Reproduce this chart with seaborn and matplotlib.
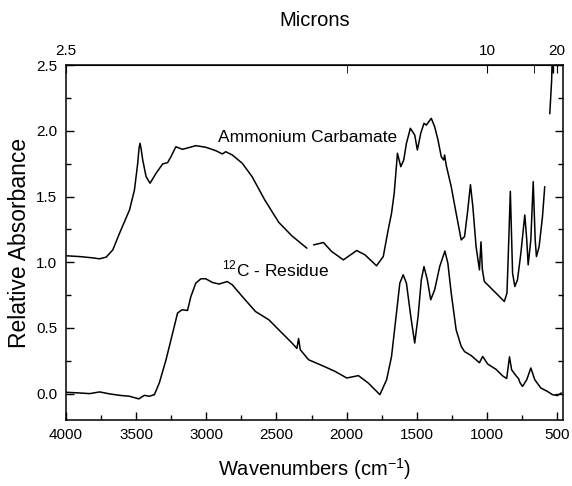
import numpy as np
import matplotlib
matplotlib.use("Agg")
import matplotlib.pyplot as plt
from matplotlib.ticker import MultipleLocator
import seaborn as sns

# Ammonium carbamate spectrum (wavenumber cm-1, relative absorbance), drawn in pieces
carb_wn_a = [4000, 3995, 3901, 3806, 3759, 3712, 3665, 3617, 3546, 3511,
             3488, 3478, 3471, 3463, 3452, 3428, 3400, 3357, 3310, 3275,
             3251, 3216, 3169, 3074, 3003, 2932, 2885, 2861, 2814, 2743,
             2673, 2583, 2483, 2389, 2283]
carb_abs_a = [1.05, 1.049, 1.043, 1.033, 1.026, 1.039, 1.094, 1.221, 1.398, 1.55,
              1.75, 1.87, 1.905, 1.86, 1.778, 1.651, 1.601, 1.677, 1.748, 1.758,
              1.803, 1.879, 1.859, 1.887, 1.875, 1.849, 1.824, 1.841, 1.816, 1.753,
              1.651, 1.474, 1.303, 1.20, 1.107]

carb_wn_b = [2235, 2165, 2106, 2023, 1928, 1869, 1787, 1739, 1704, 1680,
             1661, 1638, 1614, 1593, 1574, 1546, 1515, 1496, 1472, 1449,
             1432, 1397, 1373, 1349, 1326, 1309, 1302, 1291, 1255, 1220,
             1184, 1160, 1137, 1118, 1101, 1078, 1054, 1043, 1033, 1019,
             983, 960, 924, 877, 858, 849, 834, 818, 802, 783,
             759, 731, 717, 707, 688, 671, 657, 648, 629, 605,
             589]
carb_abs_b = [1.132, 1.150, 1.081, 1.018, 1.089, 1.056, 0.973, 1.043, 1.246, 1.373,
              1.525, 1.829, 1.727, 1.778, 1.905, 2.019, 1.968, 1.854, 1.981, 2.057,
              2.044, 2.095, 2.031, 1.93, 1.803, 1.778, 1.816, 1.74, 1.575, 1.373,
              1.17, 1.195, 1.398, 1.59, 1.423, 1.119, 0.942, 1.155, 0.942, 0.853,
              0.815, 0.79, 0.752, 0.701, 0.765, 1.043, 1.54, 0.917, 0.815, 0.866,
              1.069, 1.36, 1.17, 0.98, 1.17, 1.613, 1.17, 1.043, 1.119, 1.347,
              1.575]

carb_wn_c = [553, 540, 532, 529, 527]
carb_abs_c = [2.13, 2.38, 2.7, 2.7, 2.44]

# 12C residue spectrum
res_wn = [4000, 3995, 3901, 3830, 3759, 3688, 3617, 3546, 3480, 3440,
          3405, 3369, 3334, 3286, 3239, 3204, 3173, 3133, 3109, 3074,
          3038, 3003, 2956, 2909, 2850, 2814, 2743, 2649, 2554, 2460,
          2389, 2354, 2342, 2330, 2271, 2152, 2082, 1999, 1916, 1846,
          1763, 1715, 1680, 1645, 1621, 1597, 1574, 1543, 1515, 1491,
          1468, 1449, 1425, 1401, 1373, 1337, 1300, 1279, 1255, 1220,
          1184, 1160, 1113, 1054, 1031, 995, 936, 889, 860, 840,
          825, 795, 776, 764, 747, 717, 688, 660, 617, 570,
          534, 499, 471]
res_abs = [0.01, 0.01, 0.005, 0.0, 0.013, -0.002, -0.013, -0.02, -0.04, -0.013,
           -0.02, -0.008, 0.081, 0.258, 0.461, 0.613, 0.638, 0.633, 0.739, 0.841,
           0.874, 0.874, 0.846, 0.834, 0.853, 0.828, 0.739, 0.625, 0.562, 0.461,
           0.385, 0.344, 0.42, 0.334, 0.258, 0.203, 0.169, 0.119, 0.137, 0.081,
           -0.008, 0.106, 0.283, 0.613, 0.841, 0.904, 0.841, 0.587, 0.385, 0.587,
           0.866, 0.967, 0.866, 0.714, 0.79, 0.967, 1.085, 0.993, 0.765, 0.486,
           0.36, 0.32, 0.29, 0.235, 0.283, 0.225, 0.185, 0.135, 0.115, 0.28,
           0.182, 0.138, 0.115, 0.081, 0.055, 0.106, 0.195, 0.106, 0.043, 0.017,
           -0.008, -0.015, 0.005]

micron_ticks = [2.5, 10, 20]
micron_minor = [5, 15]

sns.set_style("ticks")
plt.rcParams['font.family'] = ['Liberation Sans', 'DejaVu Sans']
plt.rcParams['mathtext.fontset'] = 'custom'
plt.rcParams['mathtext.rm'] = 'Liberation Sans'
for key in ['text.color', 'axes.labelcolor', 'xtick.color', 'ytick.color', 'axes.edgecolor']:
    plt.rcParams[key] = 'black'

fig = plt.figure(figsize=(5.72, 4.86), dpi=100)
ax = fig.add_axes([0.115, 0.136, 0.869, 0.730])

segments = [(carb_wn_a, carb_abs_a), (carb_wn_b, carb_abs_b),
            (carb_wn_c, carb_abs_c), (res_wn, res_abs)]
for wn, ab in segments:
    sns.lineplot(x=wn, y=ab, sort=False, estimator=None, color='black',
                 linewidth=1.1, ax=ax)

ax.set_xlim(4000, 460)
ax.set_ylim(-0.2, 2.5)
ax.xaxis.set_major_locator(MultipleLocator(500))
ax.xaxis.set_minor_locator(MultipleLocator(250))
ax.yaxis.set_major_locator(MultipleLocator(0.5))
ax.yaxis.set_minor_locator(MultipleLocator(0.25))
ax.yaxis.set_major_formatter('{x:.1f}')
ax.tick_params(which='both', direction='in', right=True, top=False,
               labelsize=11, colors='black', pad=6)
ax.tick_params(which='major', length=6, width=1)
ax.tick_params(which='minor', length=3.5, width=1)
for s in ax.spines.values():
    s.set_linewidth(1.1)
    s.set_color('black')


def wn2um(x):
    x = np.asarray(x, dtype=float)
    with np.errstate(divide='ignore'):
        return 1e4 / x


sec = ax.secondary_xaxis('top', functions=(wn2um, wn2um))
sec.set_xticks(micron_ticks, labels=['2.5', '10', '20'])
sec.set_xticks(micron_minor, minor=True)
sec.tick_params(which='both', direction='in', labelsize=11, length=6, pad=5,
                colors='black')
sec.set_xlabel('Microns', fontsize=14.5, labelpad=13)

ax.text(2275, 1.95, 'Ammonium Carbamate', ha='center', va='center', fontsize=12.5)
ax.text(2505, 0.95, r'$^{\mathrm{12}}$C - Residue', ha='center', va='center', fontsize=12.5)

ax.set_xlabel(r'Wavenumbers (cm$^{\mathrm{-1}}$)', fontsize=14.5, labelpad=10)
ax.set_ylabel('Relative Absorbance', fontsize=16.5, labelpad=4)

fig.savefig('out.png', dpi=100)
